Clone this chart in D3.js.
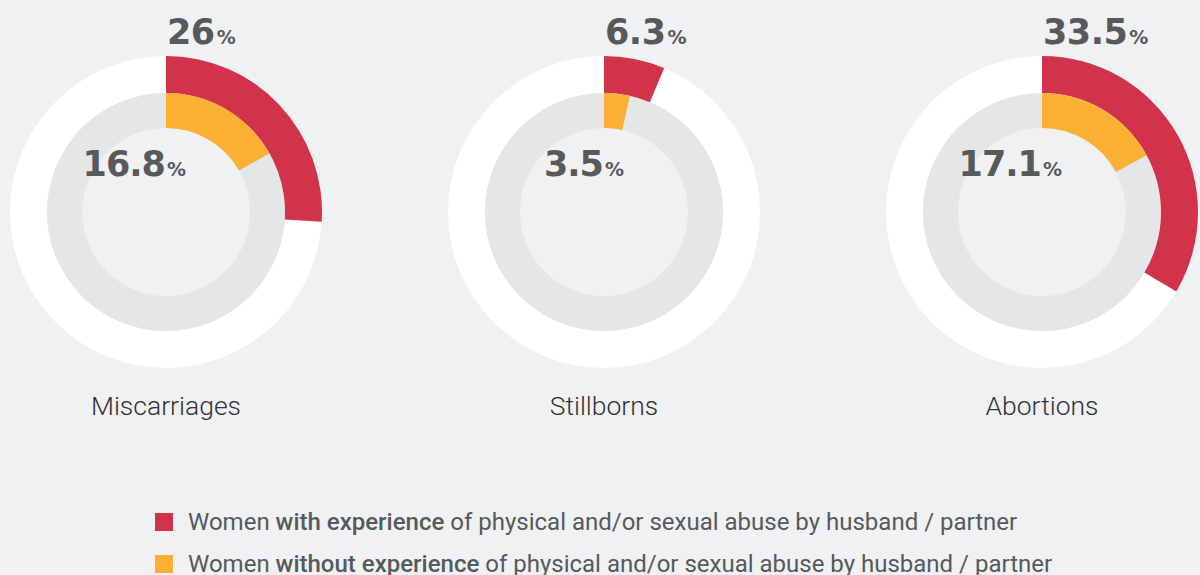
<!DOCTYPE html>
<html>
<head>
<meta charset="utf-8">
<script src="https://cdnjs.cloudflare.com/ajax/libs/d3/7.8.5/d3.min.js"></script>
<style>
  html, body { margin: 0; padding: 0; background: #f0f1f3; }
  svg { display: block; }
</style>
</head>
<body>
<div class="chart"></div>
<script>
var categories = ['Miscarriages', 'Stillborns', 'Abortions'];
var withAbuse = [26, 6.3, 33.5];
var withoutAbuse = [16.8, 3.5, 17.1];
var legendLabels = [
  ['Women ', 'with experience', ' of physical and/or sexual abuse by husband / partner'],
  ['Women ', 'without experience', ' of physical and/or sexual abuse by husband / partner']
];

var width = 1200, height = 575;
var red = '#d0334a', orange = '#fbb034';

var svg = d3.select('.chart')
  .append('svg')
    .attr('width', width)
    .attr('height', height);

svg.append('rect')
  .attr('width', width)
  .attr('height', height)
  .attr('fill', '#f0f1f3');

var x = d3.scalePoint()
  .domain(categories)
  .range([166, 1042]);

var pct = d3.scaleLinear().domain([0, 100]).range([0, 2 * Math.PI]);

var outerArc = d3.arc().innerRadius(119).outerRadius(156);
var innerArc = d3.arc().innerRadius(84).outerRadius(119);
var cy = 212;

var g = svg.selectAll('.donut')
  .data(categories)
  .enter()
  .append('g')
    .attr('class', 'donut')
    .attr('transform', d => `translate(${x(d)}, ${cy})`);

// background rings
g.append('path')
  .attr('d', outerArc({startAngle: 0, endAngle: 2 * Math.PI}))
  .attr('fill', '#ffffff');
g.append('path')
  .attr('d', innerArc({startAngle: 0, endAngle: 2 * Math.PI}))
  .attr('fill', '#e5e6e8');

// value arcs
g.append('path')
  .attr('d', (d, i) => outerArc({startAngle: 0, endAngle: pct(withAbuse[i])}))
  .attr('fill', red);
g.append('path')
  .attr('d', (d, i) => innerArc({startAngle: 0, endAngle: pct(withoutAbuse[i])}))
  .attr('fill', orange);

// top value label
var topLabel = g.append('text')
  .attr('x', 1)
  .attr('y', 44 - cy)
  .attr('fill', '#58595b')
  .style('font-family', '"DejaVu Sans", sans-serif');
topLabel.append('tspan')
  .style('font-size', '35px')
  .style('font-weight', 'bold')
  .attr('letter-spacing', -0.5)
  .text((d, i) => withAbuse[i]);
topLabel.append('tspan')
  .style('font-size', '19px')
  .style('font-weight', 'bold')
  .attr('dx', 2)
  .text('%');

// inner value label
var innerLabel = g.append('text')
  .attr('x', 20)
  .attr('y', 176 - cy)
  .attr('text-anchor', 'end')
  .attr('fill', '#58595b')
  .style('font-family', '"DejaVu Sans", sans-serif');
innerLabel.append('tspan')
  .style('font-size', '35px')
  .style('font-weight', 'bold')
  .attr('letter-spacing', -1)
  .text((d, i) => withoutAbuse[i]);
innerLabel.append('tspan')
  .style('font-size', '19px')
  .style('font-weight', 'bold')
  .attr('dx', 2)
  .text('%');

// category label
g.append('text')
  .attr('y', 415 - cy)
  .attr('text-anchor', 'middle')
  .attr('fill', '#333333')
  .style('font-family', 'Roboto, sans-serif')
  .style('font-weight', 300)
  .style('font-size', '26.5px')
  .text(d => d);

// legend
var legend = svg.selectAll('.legend')
  .data(legendLabels)
  .enter()
  .append('g')
    .attr('class', 'legend')
    .attr('transform', (d, i) => `translate(155, ${513 + i * 42})`);

legend.append('rect')
  .attr('width', 18)
  .attr('height', 18)
  .attr('fill', (d, i) => i === 0 ? red : orange);

var lt = legend.append('text')
  .attr('x', 33)
  .attr('y', 17)
  .attr('fill', '#555a5c')
  .style('font-family', 'Roboto, sans-serif')
  .style('font-size', '24px');
lt.append('tspan').text(d => d[0]);
lt.append('tspan').style('font-weight', 500).text(d => d[1]);
lt.append('tspan').text(d => d[2]);
</script>
</body>
</html>
